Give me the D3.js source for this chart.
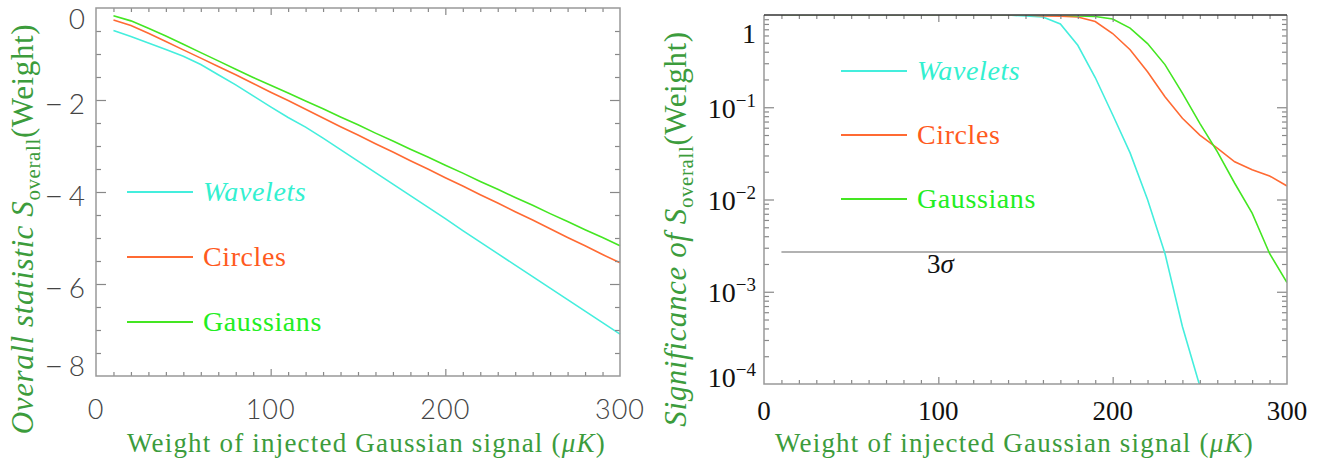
<!DOCTYPE html>
<html>
<head>
<meta charset="utf-8">
<script src="https://d3js.org/d3.v7.min.js"></script>
<style>
  body { margin: 0; background: #fff; }
  .tick line { stroke: #888; stroke-width: 1.2px; }
  .serif { font-family: "Liberation Serif", "DejaVu Serif", serif; }
</style>
</head>
<body>
<svg id="plot" width="1325" height="465"></svg>
<script>
// injected signal weights (muK)
const weights = [10, 20, 30, 40, 50, 60, 70, 80, 90, 100, 110, 120, 130, 140, 150,
                 160, 170, 180, 190, 200, 210, 220, 230, 240, 250, 260, 270, 280, 290, 300];

// left panel: overall statistic
const statWavelets = [-0.49, -0.62, -0.76, -0.90, -1.05, -1.23, -1.45, -1.67, -1.91, -2.15,
                      -2.38, -2.59, -2.83, -3.08, -3.33, -3.58, -3.83, -4.08, -4.33, -4.58,
                      -4.84, -5.09, -5.34, -5.59, -5.84, -6.09, -6.34, -6.59, -6.84, -7.09];
const statCircles = [-0.26, -0.38, -0.55, -0.73, -0.91, -1.09, -1.27, -1.45, -1.64, -1.83,
                     -2.01, -2.20, -2.39, -2.58, -2.76, -2.95, -3.13, -3.32, -3.50, -3.69,
                     -3.87, -4.06, -4.24, -4.43, -4.61, -4.80, -4.99, -5.17, -5.36, -5.54];
const statGaussians = [-0.17, -0.28, -0.44, -0.61, -0.79, -0.97, -1.15, -1.33, -1.51, -1.68,
                       -1.85, -2.02, -2.19, -2.37, -2.54, -2.72, -2.89, -3.07, -3.24, -3.42,
                       -3.59, -3.77, -3.94, -4.12, -4.29, -4.47, -4.64, -4.82, -4.99, -5.17];

// right panel: significance
const sigWavelets = [1, 1, 1, 1, 1, 1, 1, 1, 1, 1, 1, 1, 1, 1, 0.975,
                     0.95, 0.80, 0.47, 0.21, 0.083, 0.032, 0.010, 0.0026, 0.00042, 0.000095];
const sigCircles = [1, 1, 1, 1, 1, 1, 1, 1, 1, 1, 1, 1, 1, 1, 1,
                    0.975, 0.97, 0.95, 0.85, 0.63, 0.42, 0.243, 0.13, 0.076, 0.05,
                    0.036, 0.0256, 0.021, 0.018, 0.014];
const sigGaussians = [1, 1, 1, 1, 1, 1, 1, 1, 1, 1, 1, 1, 1, 1, 1,
                      1, 1, 0.975, 0.965, 0.905, 0.72, 0.49, 0.29, 0.142, 0.067,
                      0.033, 0.015, 0.0071, 0.0026, 0.00126];
const threeSigma = 0.0027;

const methods = ["Wavelets", "Circles", "Gaussians"];
const lineColors = ["#44eedd", "#ff6a33", "#44e622"];
const textColors = ["#33f0d0", "#ff5a1e", "#22ee22"];
const titleGreen = "#3c9c3c";

const xTicks = [0, 100, 200, 300];
const leftYTicks = [0, -2, -4, -6, -8];
const rightYTicks = [1, 1e-1, 1e-2, 1e-3, 1e-4];

const svg = d3.select("#plot");

const xL = d3.scaleLinear().domain([0, 300]).range([96, 620]);
const yL = d3.scaleLinear().domain([-8, 0]).range([376, 8]);
const xR = d3.scaleLinear().domain([0, 300]).range([764, 1287]);
const yR = d3.scaleLog().domain([1e-4, 1]).range([384, 15]);

// lines sitting exactly at 1 hide under the top axis
svg.append("clipPath").attr("id", "clipR")
  .append("rect").attr("x", 764).attr("y", 15.8).attr("width", 523).attr("height", 368.2);

function drawLines(g, x, y, seriesList) {
  seriesList.forEach((s, i) => {
    const pts = s.map((v, j) => [weights[j], v]);
    g.append("path")
      .datum(pts)
      .attr("fill", "none")
      .attr("stroke", lineColors[i])
      .attr("stroke-width", 1.6)
      .attr("d", d3.line().x(d => x(d[0])).y(d => y(d[1])));
  });
}

function xAxes(x, yTop, yBot) {
  const minor = d3.range(0, 301, 10).filter(v => v % 100 !== 0);
  const major = [100, 200];
  svg.append("g").attr("transform", `translate(0,${yBot})`)
    .call(d3.axisBottom(x).tickValues(minor).tickSize(-4).tickFormat(""))
    .call(g => g.select(".domain").remove());
  svg.append("g").attr("transform", `translate(0,${yBot})`)
    .call(d3.axisBottom(x).tickValues(major).tickSize(-7).tickFormat(""))
    .call(g => g.select(".domain").remove());
  svg.append("g").attr("transform", `translate(0,${yTop})`)
    .call(d3.axisTop(x).tickValues(minor).tickSize(-4).tickFormat(""))
    .call(g => g.select(".domain").remove());
  svg.append("g").attr("transform", `translate(0,${yTop})`)
    .call(d3.axisTop(x).tickValues(major).tickSize(-7).tickFormat(""))
    .call(g => g.select(".domain").remove());
}

function yAxes(y, xLeft, xRight, minor, major) {
  svg.append("g").attr("transform", `translate(${xLeft},0)`)
    .call(d3.axisLeft(y).tickValues(minor).tickSize(-5).tickFormat(""))
    .call(g => g.select(".domain").remove());
  svg.append("g").attr("transform", `translate(${xLeft},0)`)
    .call(d3.axisLeft(y).tickValues(major).tickSize(-10).tickFormat(""))
    .call(g => g.select(".domain").remove());
  svg.append("g").attr("transform", `translate(${xRight},0)`)
    .call(d3.axisRight(y).tickValues(minor).tickSize(-5).tickFormat(""))
    .call(g => g.select(".domain").remove());
  svg.append("g").attr("transform", `translate(${xRight},0)`)
    .call(d3.axisRight(y).tickValues(major).tickSize(-10).tickFormat(""))
    .call(g => g.select(".domain").remove());
}

// ---------- left panel ----------
const left = svg.append("g");
drawLines(left, xL, yL, [statWavelets, statCircles, statGaussians]);

xAxes(xL, 8, 376);
yAxes(yL, 96, 620,
  d3.range(-8, 0.01, 0.5).filter(v => v % 2 !== 0),
  [-6, -4, -2]);

svg.append("path")
  .attr("d", `M${xL(0)},${yL(0)}H${xL(300)}V${yL(-8)}H${xL(0)}Z`)
  .attr("fill", "none").attr("stroke", "#999").attr("stroke-width", 1.5);

const llab = left.selectAll("text.ylab").data(leftYTicks).join("text")
  .attr("class", "ylab")
  .attr("x", 85)
  .attr("y", d => Math.max(19, Math.min(366, yL(d) + 4)))
  .attr("dy", "0.36em")
  .attr("text-anchor", "end")
  .attr("font-family", "Lato, 'Open Sans', sans-serif")
  .attr("font-weight", 300)
  .attr("font-size", 28)
  .attr("fill", "#444");
llab.each(function (d) {
  const t = d3.select(this);
  if (d === 0) { t.text("0"); return; }
  t.append("tspan").attr("font-size", 34).text("\u2013");
  t.append("tspan").attr("dx", 5).text(Math.abs(d));
});

left.selectAll("text.xlab").data(xTicks).join("text")
  .attr("class", "xlab")
  .attr("x", d => xL(d))
  .attr("y", 419)
  .attr("text-anchor", "middle")
  .attr("font-family", "Lato, 'Open Sans', sans-serif")
  .attr("font-weight", 300)
  .attr("font-size", 27)
  .attr("letter-spacing", 1)
  .attr("fill", "#444")
  .text(d => d);

// ---------- right panel ----------
const right = svg.append("g");
right.append("line")
  .attr("x1", xR(10)).attr("x2", xR(300))
  .attr("y1", yR(threeSigma)).attr("y2", yR(threeSigma))
  .attr("stroke", "#999").attr("stroke-width", 1.5);
right.append("text")
  .attr("class", "serif")
  .attr("x", 927).attr("y", 273)
  .attr("font-size", 27)
  .attr("fill", "#111")
  .text("3")
  .append("tspan").attr("font-style", "italic").text("\u03c3");

const rg = right.append("g").attr("clip-path", "url(#clipR)");
drawLines(rg, xR, yR, [sigWavelets, sigCircles, sigGaussians]);

xAxes(xR, 15, 384);
const logMinor = [];
[1e-4, 1e-3, 1e-2, 1e-1].forEach(b => { for (let k = 2; k <= 9; k++) logMinor.push(b * k); });
yAxes(yR, 764, 1287, logMinor, [1e-3, 1e-2, 1e-1]);

svg.append("path")
  .attr("d", `M${xR(0)},${yR(1)}V${yR(1e-4)}H${xR(300)}V${yR(1)}`)
  .attr("fill", "none").attr("stroke", "#999").attr("stroke-width", 1.5);
svg.append("line")
  .attr("x1", xR(0)).attr("x2", xR(300)).attr("y1", yR(1)).attr("y2", yR(1))
  .attr("stroke", "#333").attr("stroke-width", 1.5);

const rlab = right.selectAll("text.ylab").data(rightYTicks).join("text")
  .attr("class", "ylab serif")
  .attr("x", 756)
  .attr("y", d => Math.max(33, Math.min(377, yR(d) + 1)))
  .attr("dy", "0.34em")
  .attr("text-anchor", "end")
  .attr("font-size", 28)
  .attr("fill", "#111");
rlab.each(function (d) {
  const t = d3.select(this);
  if (d === 1) { t.text("1"); return; }
  const e = Math.round(Math.log10(d));
  t.append("tspan").text("10");
  t.append("tspan").attr("dy", -11).attr("font-size", 19).text("\u2212" + Math.abs(e));
});

right.selectAll("text.xlab").data(xTicks).join("text")
  .attr("class", "xlab serif")
  .attr("x", d => xR(d))
  .attr("y", 420)
  .attr("text-anchor", "middle")
  .attr("font-size", 27)
  .attr("fill", "#111")
  .text(d => d);

// ---------- legends ----------
function legend(x0, ys) {
  methods.forEach((m, i) => {
    svg.append("line")
      .attr("x1", x0).attr("x2", x0 + 66)
      .attr("y1", ys[i]).attr("y2", ys[i])
      .attr("stroke", lineColors[i]).attr("stroke-width", 2);
    svg.append("text")
      .attr("class", "serif")
      .attr("x", x0 + 76).attr("y", ys[i] + 9)
      .attr("font-size", 28)
      .attr("letter-spacing", 0.6)
      .attr("font-style", i === 0 ? "italic" : "normal")
      .attr("fill", textColors[i])
      .text(m);
  });
}
legend(127, [192, 257, 322]);
legend(841, [71, 135, 199]);

// ---------- axis titles ----------
function xTitle(xStart) {
  const t = svg.append("text")
    .attr("class", "serif")
    .attr("x", xStart).attr("y", 452)
    .attr("font-size", 27)
    .attr("letter-spacing", 1.2)
    .attr("fill", titleGreen);
  t.append("tspan").text("Weight of injected Gaussian signal ");
  t.append("tspan").text("(");
  t.append("tspan").attr("font-style", "italic").text("\u03bcK");
  t.append("tspan").text(")");
}
xTitle(127);
xTitle(775);

function yTitle(xBase, words) {
  const t = svg.append("text")
    .attr("class", "serif")
    .attr("transform", `translate(${xBase},229) rotate(-90)`)
    .attr("text-anchor", "middle")
    .attr("font-size", 31)
    .attr("letter-spacing", 0.6)
    .attr("fill", titleGreen);
  t.append("tspan").attr("font-style", "italic").text(words + " ");
  t.append("tspan").attr("font-style", "italic").text("S");
  t.append("tspan").attr("font-size", 21).attr("dy", 7).text("overall");
  t.append("tspan").attr("dy", -7).text("(Weight)");
}
yTitle(33, "Overall statistic");
yTitle(686, "Significance of");
</script>
</body>
</html>
